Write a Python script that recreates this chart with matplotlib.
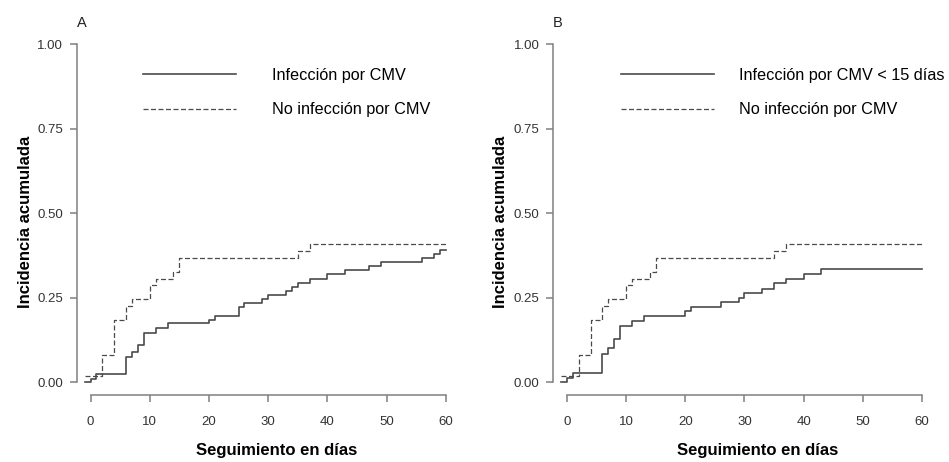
import matplotlib
matplotlib.use('Agg')
import matplotlib.pyplot as plt

# Cumulative incidence
# "No infeccion por CMV" (same curve in both panels)
dias_no = [-1, 2, 4, 6, 7, 10, 11, 14, 15, 35, 37, 60]
inc_no = [0.020, 0.082, 0.184, 0.226, 0.246, 0.288, 0.306, 0.327, 0.367, 0.388, 0.408, 0.408]

# Panel A: "Infeccion por CMV"
dias_a = [-1, 0, 1, 6, 7, 8, 9, 11, 13, 20, 21, 25, 26, 29, 30, 33, 34, 35, 37, 40, 43, 47, 49, 56, 58, 59, 60]
inc_a = [0.0, 0.009, 0.026, 0.074, 0.089, 0.110, 0.147, 0.160, 0.174, 0.185, 0.197, 0.224, 0.236,
         0.245, 0.258, 0.271, 0.283, 0.295, 0.307, 0.319, 0.332, 0.343, 0.355, 0.368, 0.380, 0.390, 0.390]

# Panel B: "Infeccion por CMV < 15 dias"
dias_b = [-1, 0, 1, 6, 7, 8, 9, 11, 13, 20, 21, 26, 29, 30, 33, 35, 37, 40, 43, 60]
inc_b = [0.0, 0.014, 0.028, 0.084, 0.100, 0.127, 0.167, 0.182, 0.195, 0.210, 0.224, 0.239,
         0.250, 0.265, 0.277, 0.293, 0.306, 0.321, 0.334, 0.334]

x_ticks = [0, 10, 20, 30, 40, 50, 60]
y_ticks = [0.0, 0.25, 0.5, 0.75, 1.0]
y_ticklabels = ['0.00', '0.25', '0.50', '0.75', '1.00']

# letter, x, y, label, axes left, xlabel x, ylabel x, legend x, text pad
panels = [
    ('A', dias_a, inc_a, 'Infección por CMV', 0.0811, 0.534, -0.118, 0.176, 2.2),
    ('B', dias_b, inc_b, 'Infección por CMV < 15 días', 0.5830, 0.545, -0.121, 0.180, 1.5),
]

line_col = '#4a4a4a'
axis_col = '#808080'
sans = ['Liberation Sans', 'DejaVu Sans']

fig = plt.figure(figsize=(9.49, 4.62), dpi=100)

for letter, dias, inc, lab, left, xlab_x, ylab_x, leg_x, tpad in panels:
    ax = fig.add_axes([left, 0.1450, 0.3948, 0.7738])
    ax.step(dias, inc, where='post', color=line_col, lw=1.2, label=lab)
    ax.step(dias_no, inc_no, where='post', color=line_col, lw=0.9,
            linestyle=(0, (4, 2)), label='No infección por CMV')

    ax.set_xlim(-2.3, 61.0)
    ax.set_ylim(-0.0376, 1.02)
    for s in ['top', 'right']:
        ax.spines[s].set_visible(False)
    ax.spines['left'].set_bounds(0, 1)
    ax.spines['bottom'].set_bounds(0, 60)
    for s in ['left', 'bottom']:
        ax.spines[s].set_color(axis_col)
        ax.spines[s].set_linewidth(1.1)

    ax.set_xticks(x_ticks)
    ax.set_yticks(y_ticks)
    ax.set_yticklabels(y_ticklabels)
    ax.tick_params(axis='both', direction='out', length=5, width=1.1, color=axis_col,
                   labelcolor='#333333', labelsize=9.5)
    ax.tick_params(axis='y', pad=5)
    ax.tick_params(axis='x', pad=10)
    for t in ax.get_xticklabels() + ax.get_yticklabels():
        t.set_family(sans)

    ax.set_ylabel('Incidencia acumulada', fontsize=12, fontweight='bold', family=sans)
    ax.yaxis.set_label_coords(ylab_x, 0.484)
    ax.set_xlabel('Seguimiento en días', fontsize=12, fontweight='bold', family=sans)
    ax.xaxis.set_label_coords(xlab_x, -0.135)

    ax.legend(loc='upper left', bbox_to_anchor=(leg_x, 0.915),
              frameon=False, prop={'family': sans, 'size': 11.7},
              handlelength=5.75, handletextpad=tpad, labelspacing=1.2,
              borderpad=0, borderaxespad=0)

    fig.text((82 if letter == 'A' else 558) / 949, 1 - 23 / 462, letter,
             ha='center', va='center', fontsize=10.5, family=sans, color='#222222')

fig.savefig('out.png', dpi=100)
